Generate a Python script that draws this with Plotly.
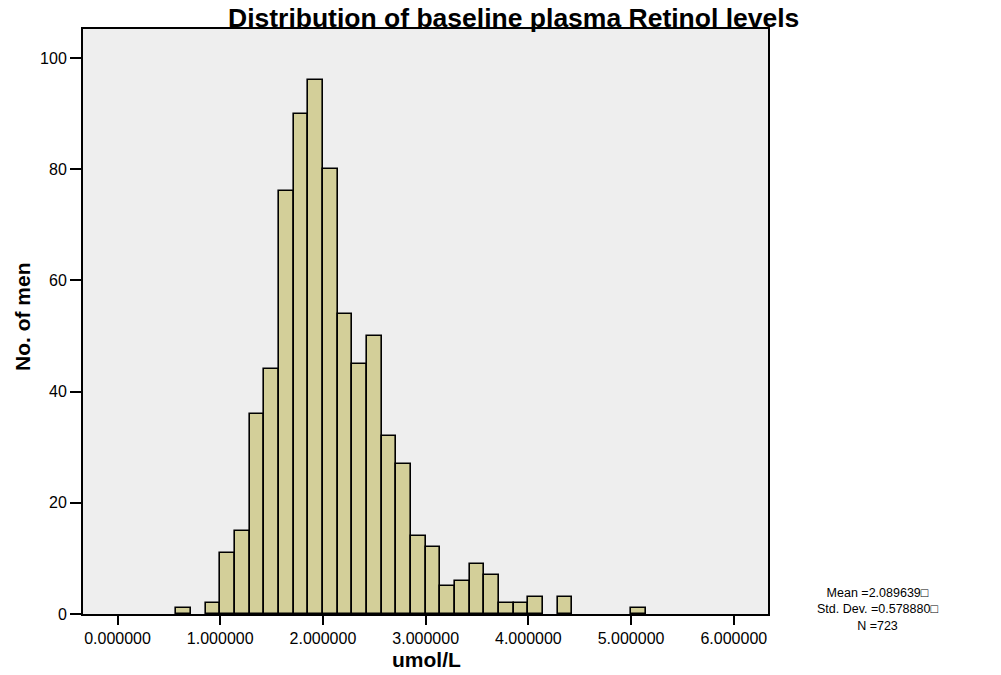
import plotly.graph_objects as go

# Histogram bins (left edges, umol/L) and counts
bin_width = 0.142857
bin_start = [0.5714, 0.8571, 1.0000, 1.1429, 1.2857, 1.4286, 1.5714, 1.7143,
             1.8571, 2.0000, 2.1429, 2.2857, 2.4286, 2.5714, 2.7143, 2.8571,
             3.0000, 3.1429, 3.2857, 3.4286, 3.5714, 3.7143, 3.8571, 4.0000,
             4.2857, 5.0000]
counts = [1, 2, 11, 15, 36, 44, 76, 90,
          96, 80, 54, 45, 50, 32, 27, 14,
          12, 5, 6, 9, 7, 2, 2, 3,
          3, 1]

x_tickvals = [0, 1, 2, 3, 4, 5, 6]
x_ticktext = ["0.000000", "1.000000", "2.000000", "3.000000",
              "4.000000", "5.000000", "6.000000"]
y_tickvals = [0, 20, 40, 60, 80, 100]

stats_lines = ["Mean =2.089639\u25a1", "Std. Dev. =0.578880\u25a1", "N =723"]

FONT = "Arial, Liberation Sans, sans-serif"

fig = go.Figure()
fig.add_trace(go.Bar(
    x=bin_start, y=counts, width=bin_width, offset=0,
    marker=dict(color="#D3CF99", line=dict(color="black", width=1.6)),
    showlegend=False,
))

W, H = 1001, 675
L, R, T, B = 83, 768, 29, 614

fig.update_layout(
    width=W, height=H,
    margin=dict(l=L, r=W - R, t=T, b=H - B, pad=0),
    paper_bgcolor="white",
    plot_bgcolor="#EEEEEE",
    bargap=0,
    font=dict(family=FONT, color="black"),
    xaxis=dict(
        range=[-0.336, 6.333], tickvals=x_tickvals, ticktext=x_ticktext,
        showgrid=False, zeroline=False, showline=True, mirror=True,
        linecolor="black", linewidth=2, ticks="outside", ticklen=9,
        tickwidth=2, tickcolor="black", tickfont=dict(size=16, family=FONT),
    ),
    yaxis=dict(
        range=[0, 105.2], tickvals=y_tickvals,
        showgrid=False, zeroline=False, showline=True, mirror=True,
        linecolor="black", linewidth=2, ticks="outside", ticklen=11,
        tickwidth=2, tickcolor="black", tickfont=dict(size=16, family=FONT),
    ),
)

pw = R - L
ph = B - T

def px(xp):
    return (xp - L) / pw

def py(yp):
    return (B - yp) / ph

annotations = [
    dict(text="<b>Distribution of baseline plasma Retinol levels</b>",
         x=px(513), y=py(18), xref="paper", yref="paper",
         xanchor="center", yanchor="middle", showarrow=False,
         font=dict(size=26.5, family=FONT)),
    dict(text="<b>No. of men</b>", textangle=-90,
         x=px(22), y=py(317), xref="paper", yref="paper",
         xanchor="center", yanchor="middle", showarrow=False,
         font=dict(size=21, family=FONT)),
    dict(text="<b>umol/L</b>",
         x=px(426), y=py(659), xref="paper", yref="paper",
         xanchor="center", yanchor="middle", showarrow=False,
         font=dict(size=21, family=FONT)),
    dict(text="<br>".join(stats_lines),
         x=px(877), y=py(609), xref="paper", yref="paper",
         xanchor="center", yanchor="middle", align="center", showarrow=False,
         font=dict(size=12.5, family=FONT)),
]

fig.update_layout(annotations=annotations)

fig.write_html("out.html")
